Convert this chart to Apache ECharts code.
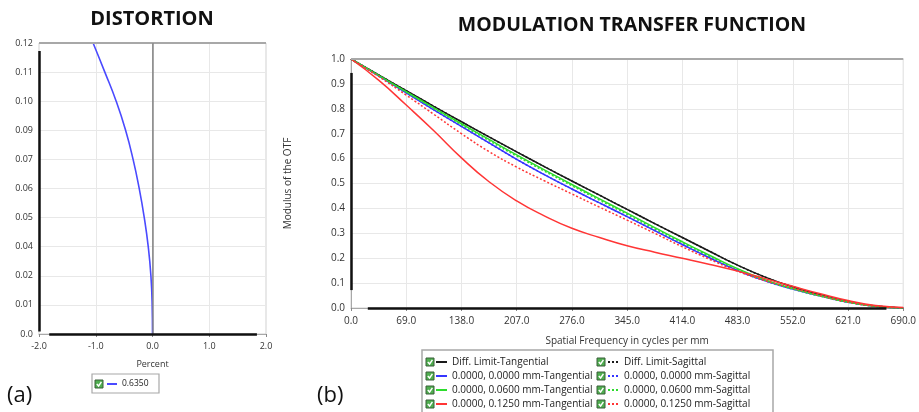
<!DOCTYPE html>
<html>
<head>
<meta charset="utf-8">
<script src="https://cdn.jsdelivr.net/npm/echarts@6/dist/echarts.min.js"></script>
<style>
html,body{margin:0;padding:0;background:#fff;}
#c{width:919px;height:412px;}
</style>
</head>
<body>
<div id="c"></div>
<script>
// ---------- Distortion data ----------
const distYTickLabels = ['0.0','0.01','0.02','0.04','0.05','0.06','0.07','0.09','0.10','0.11','0.12'];
const distXTickLabels = ['-2.0','-1.0','0.0','1.0','2.0'];
const distField   = [0, 0.012, 0.024, 0.036, 0.048, 0.060, 0.072, 0.084, 0.096, 0.108, 0.120];
const distPercent = [0, -0.006, -0.028, -0.075, -0.145, -0.234, -0.342, -0.474, -0.640, -0.840, -1.047];

// ---------- MTF data ----------
const mtfXTickLabels = ['0.0','69.0','138.0','207.0','276.0','345.0','414.0','483.0','552.0','621.0','690.0'];
const mtfFreq  = [0, 34.5, 69, 103.5, 138, 172.5, 207, 241.5, 276, 310.5, 345, 379.5, 414, 448.5, 483, 517.5, 552, 586.5, 621, 655.5, 690];
const diffT    = [1.000, 0.936, 0.873, 0.810, 0.748, 0.687, 0.627, 0.568, 0.510, 0.453, 0.396, 0.339, 0.283, 0.227, 0.172, 0.124, 0.085, 0.053, 0.026, 0.008, 0.000];
const diffS    = [1.000, 0.936, 0.873, 0.810, 0.748, 0.687, 0.627, 0.568, 0.510, 0.453, 0.396, 0.339, 0.283, 0.227, 0.172, 0.124, 0.085, 0.053, 0.026, 0.008, 0.000];
const fld0T    = [1.000, 0.932, 0.864, 0.796, 0.729, 0.663, 0.597, 0.536, 0.478, 0.422, 0.367, 0.311, 0.255, 0.201, 0.151, 0.109, 0.076, 0.048, 0.023, 0.007, 0.000];
const fld0S    = [1.000, 0.932, 0.864, 0.796, 0.729, 0.663, 0.597, 0.536, 0.478, 0.422, 0.367, 0.311, 0.255, 0.201, 0.151, 0.109, 0.076, 0.048, 0.023, 0.007, 0.000];
const fld06T   = [1.000, 0.934, 0.869, 0.804, 0.740, 0.677, 0.615, 0.555, 0.496, 0.438, 0.381, 0.323, 0.266, 0.211, 0.158, 0.113, 0.078, 0.049, 0.024, 0.007, 0.000];
const fld06S   = [1.000, 0.933, 0.867, 0.801, 0.736, 0.672, 0.610, 0.550, 0.491, 0.433, 0.376, 0.318, 0.262, 0.207, 0.155, 0.111, 0.077, 0.048, 0.024, 0.007, 0.000];
const fld125T  = [1.000, 0.915, 0.815, 0.712, 0.603, 0.507, 0.430, 0.370, 0.320, 0.283, 0.250, 0.224, 0.200, 0.175, 0.148, 0.118, 0.087, 0.057, 0.030, 0.010, 0.002];
const fld125S  = [1.000, 0.930, 0.855, 0.778, 0.700, 0.628, 0.566, 0.511, 0.458, 0.405, 0.353, 0.300, 0.246, 0.195, 0.148, 0.110, 0.080, 0.050, 0.024, 0.007, 0.000];

const mtfSeriesDefs = [
  {name:'Diff. Limit-Tangential',        vals: diffT,   color:'#1a1a1a', dotted:false},
  {name:'Diff. Limit-Sagittal',          vals: diffS,   color:'#1a1a1a', dotted:true},
  {name:'0.0000, 0.0000 mm-Tangential',  vals: fld0T,   color:'#3535ff', dotted:false},
  {name:'0.0000, 0.0000 mm-Sagittal',    vals: fld0S,   color:'#3535ff', dotted:true},
  {name:'0.0000, 0.0600 mm-Tangential',  vals: fld06T,  color:'#2ddc2d', dotted:false},
  {name:'0.0000, 0.0600 mm-Sagittal',    vals: fld06S,  color:'#2ddc2d', dotted:true},
  {name:'0.0000, 0.1250 mm-Tangential',  vals: fld125T, color:'#ff3535', dotted:false},
  {name:'0.0000, 0.1250 mm-Sagittal',    vals: fld125S, color:'#ff3535', dotted:true}
];

const FONT = "'Open Sans', 'DejaVu Sans', sans-serif";
const chart = echarts.init(document.getElementById('c'), null, {renderer:'canvas'});

function checkbox(cx, cy) {
  return {
    type:'group', x: cx - 4, y: cy - 4, silent:true,
    children:[
      {type:'rect', shape:{x:0, y:0, width:8, height:8}, style:{fill:'#4fae4f', stroke:'#3b5e3b', lineWidth:1}},
      {type:'polyline', shape:{points:[[1.8,4],[3.6,6],[6.4,1.8]]}, style:{stroke:'#ffffff', lineWidth:1.4, fill:null}}
    ]
  };
}

function solidSeg(a, b, color, width) {
  return [{coord:a, lineStyle:{color:color, width:width, type:'solid'}}, {coord:b}];
}

const mtfSeries = mtfSeriesDefs.map(d => ({
  name: d.name, type:'line', xAxisIndex:1, yAxisIndex:1,
  data: mtfFreq.map((f,i)=>[f, d.vals[i]]),
  smooth: true, symbol:'none', showSymbol:false,
  lineStyle:{color:d.color, width:1.5, type: d.dotted ? [2,2] : 'solid'},
  itemStyle:{color:d.color},
  z: 3
}));

// axis decoration lines (Zemax style) drawn through the scales
mtfSeries[0].markLine = {
  silent:true, symbol:'none', label:{show:false}, animation:false,
  lineStyle:{type:'solid'},
  data:[
    solidSeg([0,1], [690,1], '#a8a8a8', 2),
    solidSeg([0,0.944], [0,0.072], '#111', 2.5),
    solidSeg([21,0], [669,0], '#111', 2.5)
  ]
};

const distSeries = {
  name:'0.6350', type:'line', xAxisIndex:0, yAxisIndex:0,
  data: distPercent.map((p,i)=>[p, distField[i]]),
  smooth: true, symbol:'none', showSymbol:false,
  lineStyle:{color:'#4a4aff', width:1.6}, itemStyle:{color:'#4a4aff'}, z:3,
  markLine:{
    silent:true, symbol:'none', label:{show:false}, animation:false,
    lineStyle:{type:'solid'},
    data:[
      solidSeg([-2,0.12], [2,0.12], '#a8a8a8', 2),
      solidSeg([0,0.12], [0,0], '#8a8a8a', 1.5),
      solidSeg([-2,0.1167], [-2,0.001], '#111', 2.5),
      solidSeg([-1.82,0], [1.84,0], '#111', 2.5)
    ]
  }
};

const gridLine = {show:true, lineStyle:{color:'#e8e8e8', width:1}};
const legendCommon = {
  orient:'vertical', selectedMode:false, itemGap:2, itemWidth:11, itemHeight:8, padding:0,
  itemStyle:{opacity:0},
  textStyle:{fontFamily:FONT, fontSize:10, color:'#222', lineHeight:12}
};

const tNames = mtfSeriesDefs.filter(d=>!d.dotted).map(d=>d.name);
const sNames = mtfSeriesDefs.filter(d=>d.dotted).map(d=>d.name);

const graphics = [
  {type:'text', x:152, y:19, style:{text:'DISTORTION', font:"bold 20px " + FONT, fill:'#111', align:'center', verticalAlign:'middle'}},
  {type:'text', x:632, y:25, style:{text:'MODULATION TRANSFER FUNCTION', font:"bold 19.5px " + FONT, fill:'#111', align:'center', verticalAlign:'middle'}},
  {type:'text', x:7, y:396, style:{text:'(a)', font:"22px " + FONT, fill:'#111', align:'left', verticalAlign:'middle'}},
  {type:'text', x:317, y:396, style:{text:'(b)', font:"22px " + FONT, fill:'#111', align:'left', verticalAlign:'middle'}},
  {type:'rect', shape:{x:92, y:374, width:67, height:19}, style:{fill:null, stroke:'#a8a8a8', lineWidth:1.2}, silent:true},
  {type:'rect', shape:{x:422, y:350, width:351, height:80}, style:{fill:null, stroke:'#a8a8a8', lineWidth:1.5}, silent:true},
  checkbox(99, 384)
];
const rowsY = [362, 376, 390, 404];
rowsY.forEach(y => { graphics.push(checkbox(430, y)); graphics.push(checkbox(601, y)); });

chart.setOption({
  animation:false,
  backgroundColor:'#fff',
  grid:[
    {left:39, top:43, width:227, height:291, show:true, borderColor:'#d0d0d0', borderWidth:1},
    {left:351, top:59, width:554, height:249, show:true, borderColor:'#d0d0d0', borderWidth:1}
  ],
  xAxis:[
    {type:'value', gridIndex:0, min:-2, max:2, interval:1,
     name:'Percent', nameLocation:'middle', nameGap:26,
     nameTextStyle:{fontFamily:FONT, fontSize:9, color:'#333'},
     axisLine:{show:true, lineStyle:{color:'#a8a8a8', width:1}},
     axisTick:{show:true, length:3, lineStyle:{color:'#888'}},
     axisLabel:{fontFamily:FONT, fontSize:9, color:'#333', margin:8,
       formatter:(v)=>distXTickLabels[Math.round(v+2)]},
     splitLine:gridLine},
    {type:'value', gridIndex:1, min:0, max:690, interval:69,
     name:'Spatial Frequency in cycles per mm', nameLocation:'middle', nameGap:28,
     nameTextStyle:{fontFamily:FONT, fontSize:10, color:'#333'},
     axisLine:{show:true, lineStyle:{color:'#a8a8a8', width:1}},
     axisTick:{show:true, length:3, lineStyle:{color:'#888'}},
     axisLabel:{fontFamily:FONT, fontSize:10, color:'#333', margin:8,
       formatter:(v)=>mtfXTickLabels[Math.round(v/69)]},
     splitLine:gridLine}
  ],
  yAxis:[
    {type:'value', gridIndex:0, min:0, max:0.12, interval:0.012,
     axisLine:{show:true, lineStyle:{color:'#a8a8a8', width:1}},
     axisTick:{show:false},
     axisLabel:{fontFamily:FONT, fontSize:9, color:'#333', margin:6,
       formatter:(v)=>distYTickLabels[Math.round(v/0.012)]},
     splitLine:gridLine},
    {type:'value', gridIndex:1, min:0, max:1, interval:0.1,
     name:'Modulus of the OTF', nameLocation:'middle', nameGap:58, nameRotate:90,
     nameTextStyle:{fontFamily:FONT, fontSize:10, color:'#333'},
     axisLine:{show:true, lineStyle:{color:'#a8a8a8', width:1}},
     axisTick:{show:false},
     axisLabel:{fontFamily:FONT, fontSize:10, color:'#333', margin:6,
       formatter:(v)=>v.toFixed(1)},
     splitLine:gridLine}
  ],
  legend:[
    Object.assign({}, legendCommon, {left:106, top:378, itemWidth:10, data:['0.6350'],
      textStyle:{fontFamily:FONT, fontSize:8.5, color:'#222', lineHeight:12}}),
    Object.assign({}, legendCommon, {left:435, top:356, height:80, data:tNames}),
    Object.assign({}, legendCommon, {left:607, top:356, height:80, data:sNames})
  ],
  graphic: graphics,
  series: [distSeries].concat(mtfSeries)
});
</script>
</body>
</html>
